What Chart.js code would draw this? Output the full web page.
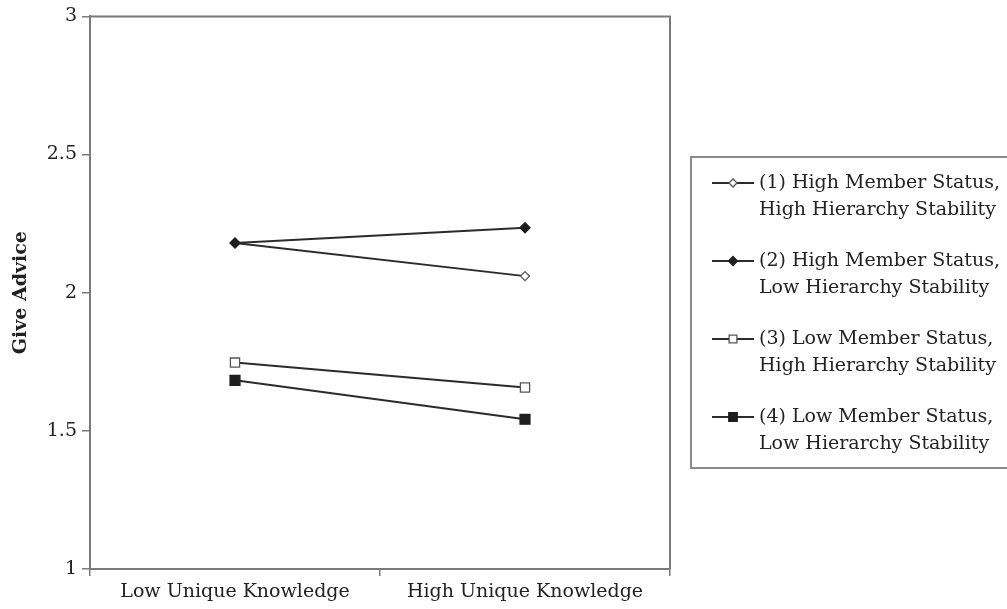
<!DOCTYPE html>
<html>
<head>
<meta charset="utf-8">
<script src="https://cdn.jsdelivr.net/npm/chart.js@4/dist/chart.umd.min.js"></script>
<style>
  html, body { margin: 0; padding: 0; background: #fff; }
  #wrap { width: 1007px; height: 609px; }
</style>
</head>
<body>
<div id="wrap"><canvas id="adviceChart" width="1007" height="609"></canvas></div>
<script>
var categories = ['Low Unique Knowledge', 'High Unique Knowledge'];
var yTicks = [1, 1.5, 2, 2.5, 3];
var seriesNames = [
    '(1) High Member Status,\nHigh Hierarchy Stability',
    '(2) High Member Status,\nLow Hierarchy Stability',
    '(3) Low Member Status,\nHigh Hierarchy Stability',
    '(4) Low Member Status,\nLow Hierarchy Stability'
];
var highStatusHighStab = [2.18, 2.06];
var highStatusLowStab = [2.18, 2.235];
var lowStatusHighStab = [1.747, 1.657];
var lowStatusLowStab = [1.683, 1.542];

var lineColor = '#2b2b2b';
var axisColor = '#7a7a7a';
var fontFamily = '"DejaVu Serif", "Liberation Serif", serif';

function series(label, values, style, filled, radius, legendRadius, order) {
    return {
        label: label,
        data: values,
        borderColor: lineColor,
        borderWidth: 2,
        pointStyle: style,
        pointRadius: radius,
        pointBorderWidth: 1.3,
        pointBorderColor: filled ? '#1e1e1e' : '#555',
        pointBackgroundColor: filled ? '#1e1e1e' : '#ffffff',
        legendRadius: legendRadius,
        order: order,
        tension: 0,
        fill: false
    };
}

// frame round the plot area plus the boxed legend on the right
var framePlugin = {
    id: 'frame',
    afterDraw: function (chart) {
        var ctx = chart.ctx, a = chart.chartArea;
        ctx.save();
        ctx.strokeStyle = axisColor;
        ctx.lineWidth = 2;
        ctx.beginPath();
        ctx.moveTo(a.left, a.top);
        ctx.lineTo(a.right, a.top);
        ctx.lineTo(a.right, a.bottom);
        ctx.stroke();

        // legend
        ctx.strokeStyle = '#8a8a8a';
        ctx.strokeRect(691, 157, 330, 311);
        ctx.font = '19px ' + fontFamily;
        ctx.fillStyle = '#222';
        ctx.textBaseline = 'middle';
        ctx.textAlign = 'left';
        chart.data.datasets.forEach(function (ds, i) {
            var y = 183 + i * 78;
            ctx.strokeStyle = ds.borderColor;
            ctx.lineWidth = 2;
            ctx.beginPath();
            ctx.moveTo(712, y);
            ctx.lineTo(754, y);
            ctx.stroke();
            ctx.lineWidth = ds.pointBorderWidth;
            ctx.strokeStyle = ds.pointBorderColor;
            ctx.fillStyle = ds.pointBackgroundColor;
            Chart.helpers.drawPoint(ctx, { pointStyle: ds.pointStyle, radius: ds.legendRadius, rotation: 0, borderWidth: ds.pointBorderWidth }, 733, y);
            ctx.fillStyle = '#222';
            ds.label.split('\n').forEach(function (line, j) {
                ctx.fillText(line, 759, y + j * 27);
            });
        });
        ctx.restore();
    }
};

new Chart(document.getElementById('adviceChart'), {
    type: 'line',
    data: {
        labels: categories,
        datasets: [
            series(seriesNames[0], highStatusHighStab, 'rectRot', false, 4.5, 4, 1),
            series(seriesNames[1], highStatusLowStab, 'rectRot', true, 5, 4.5, 0),
            series(seriesNames[2], lowStatusHighStab, 'rect', false, 6.5, 5.5, 1),
            series(seriesNames[3], lowStatusLowStab, 'rect', true, 7, 6, 1)
        ]
    },
    options: {
        responsive: false,
        animation: false,
        layout: { padding: { top: 15, right: 337, left: 0, bottom: 0 } },
        plugins: {
            legend: { display: false },
            tooltip: { enabled: false }
        },
        scales: {
            x: {
                offset: true,
                grid: {
                    offset: true,
                    drawOnChartArea: false,
                    drawTicks: true,
                    tickLength: 7,
                    color: axisColor,
                    lineWidth: 1.5
                },
                border: { display: true, color: axisColor, width: 2 },
                ticks: {
                    color: '#222',
                    padding: 5,
                    maxRotation: 0,
                    font: { family: fontFamily, size: 19 }
                },
                afterFit: function (scale) { scale.height = 40; }
            },
            y: {
                min: 1,
                max: 3,
                afterBuildTicks: function (scale) {
                    scale.ticks = yTicks.map(function (v) { return { value: v }; });
                },
                grid: {
                    drawOnChartArea: false,
                    drawTicks: true,
                    tickLength: 8,
                    color: axisColor,
                    lineWidth: 1.5
                },
                border: { display: true, color: axisColor, width: 2 },
                ticks: {
                    color: '#222',
                    padding: 5,
                    font: { family: fontFamily, size: 19 },
                    callback: function (v) { return String(v); }
                },
                title: {
                    display: true,
                    text: 'Give Advice',
                    color: '#222',
                    padding: { top: 10, bottom: 0 },
                    font: { family: fontFamily, size: 19, weight: 'bold' }
                },
                afterFit: function (scale) { scale.width = 90; }
            }
        }
    },
    plugins: [framePlugin]
});
</script>
</body>
</html>
